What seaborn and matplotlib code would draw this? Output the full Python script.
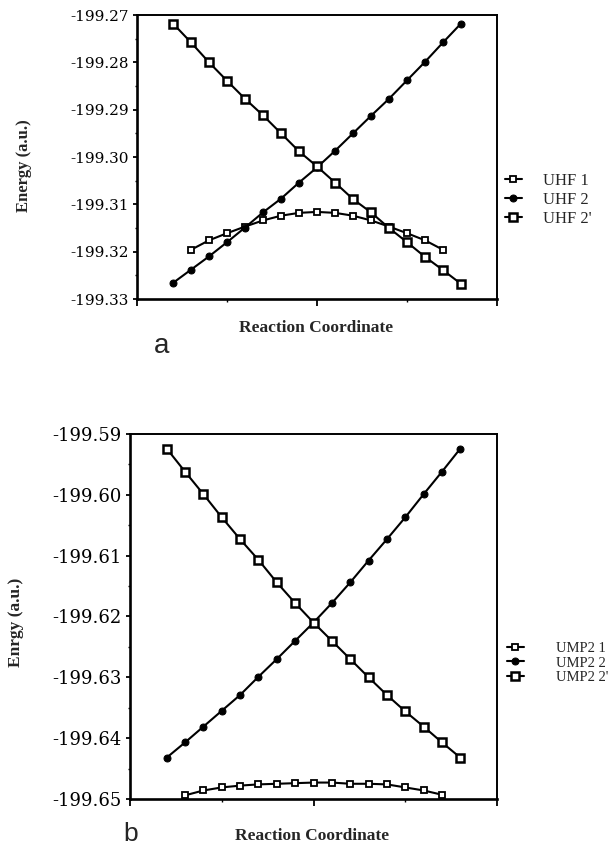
import numpy as np
import matplotlib
matplotlib.use('Agg')
import matplotlib.pyplot as plt
import seaborn as sns
from matplotlib.ticker import AutoMinorLocator

# reaction coordinate steps (arbitrary units)
coord_2 = list(range(-8, 9))
coord_1 = list(range(-7, 8))

# panel a: UHF energies (a.u.)
uhf_1 = [-199.3196, -199.3176, -199.3161, -199.3147, -199.3134, -199.3124, -199.3118, -199.3116,
         -199.3118, -199.3124, -199.3134, -199.3147, -199.3161, -199.3176, -199.3196]
uhf_2 = [-199.3266, -199.3238, -199.3210, -199.3180, -199.3149, -199.3117, -199.3088, -199.3054,
         -199.3022, -199.2987, -199.2950, -199.2913, -199.2877, -199.2838, -199.2799, -199.2758,
         -199.2718]
uhf_2p = [-199.2718, -199.2758, -199.2800, -199.2839, -199.2877, -199.2912, -199.2950, -199.2988,
          -199.3020, -199.3054, -199.3089, -199.3117, -199.3150, -199.3180, -199.3211, -199.3239,
          -199.3268]

# panel b: UMP2 energies (a.u.)
ump2_1 = [-199.6494, -199.6486, -199.6481, -199.6478, -199.6476, -199.6475, -199.6474, -199.6473,
          -199.6473, -199.6475, -199.6475, -199.6476, -199.6481, -199.6486, -199.6493]
ump2_2 = [-199.6432, -199.6407, -199.6381, -199.6355, -199.6329, -199.6299, -199.6270, -199.6240,
          -199.6210, -199.6178, -199.6144, -199.6108, -199.6073, -199.6037, -199.5999, -199.5962,
          -199.5924]
ump2_2p = [-199.5924, -199.5962, -199.5999, -199.6037, -199.6073, -199.6107, -199.6144, -199.6178,
           -199.6210, -199.6240, -199.6270, -199.6300, -199.6329, -199.6356, -199.6381, -199.6407,
           -199.6432]

labels_a = ['UHF 1', 'UHF 2', "UHF 2'"]
labels_b = ['UMP2 1', 'UMP2 2', "UMP2 2'"]

sns.set_style('ticks')
plt.rcParams['font.family'] = ['Liberation Serif', 'DejaVu Serif']
plt.rcParams['axes.unicode_minus'] = False
plt.rcParams['axes.edgecolor'] = 'black'
plt.rcParams['xtick.color'] = 'black'
plt.rcParams['ytick.color'] = 'black'

fig = plt.figure(figsize=(6.09, 8.48), dpi=100)
ax_a = fig.add_axes([0.2250, 0.6474, 0.5911, 0.3349])
ax_b = fig.add_axes([0.2135, 0.0578, 0.6026, 0.4304])


def draw_panel(ax, e1, e2, e2p, labels):
    sns.lineplot(x=coord_1, y=e1, ax=ax, color='black', linewidth=1.5, marker='s',
                 markersize=4.5, markerfacecolor='white', markeredgecolor='black',
                 markeredgewidth=1.3, label=labels[0], clip_on=False)
    sns.lineplot(x=coord_2, y=e2, ax=ax, color='black', linewidth=1.5, marker='o',
                 markersize=5, markerfacecolor='black', markeredgecolor='black',
                 label=labels[1], clip_on=False)
    sns.lineplot(x=coord_2, y=e2p, ax=ax, color='black', linewidth=1.5, marker='s',
                 markersize=5.3, markerfacecolor='white', markeredgecolor='black',
                 markeredgewidth=1.8, label=labels[2], clip_on=False)
    ax.set_xlim(-10, 10)
    ax.set_xticks([-10, 0, 10])
    ax.set_xticks([-5, 5], minor=True)
    ax.tick_params(axis='x', which='major', direction='out', length=5, width=1.3,
                   labelbottom=False)
    ax.tick_params(axis='x', which='minor', direction='out', length=2.5, width=1)
    ax.yaxis.set_minor_locator(AutoMinorLocator(2))
    ax.tick_params(axis='y', which='major', direction='out', length=3, width=1.3, pad=3)
    ax.tick_params(axis='y', which='minor', direction='out', length=1.5, width=1)
    for side in ['left', 'bottom']:
        ax.spines[side].set_linewidth(1.9)
    for side in ['top', 'right']:
        ax.spines[side].set_linewidth(1.4)


draw_panel(ax_a, uhf_1, uhf_2, uhf_2p, labels_a)
yt_a = np.round(np.linspace(-199.33, -199.27, 7), 2)
ax_a.set_ylim(-199.33, -199.27)
ax_a.set_yticks(yt_a)
ax_a.set_yticklabels([f'{v:.2f}' for v in yt_a], fontfamily='DejaVu Serif', fontsize=11)
ax_a.set_xlabel('Reaction Coordinate', fontsize=12.5, fontweight='bold')
ax_a.xaxis.set_label_coords(0.496, -0.074)
ax_a.set_ylabel('Energy (a.u.)', fontsize=12, fontweight='bold')
ax_a.yaxis.set_label_coords(-0.292, 0.468)
ax_a.legend(loc='center left', bbox_to_anchor=(1.022, 0.349), frameon=False, fontsize=12,
            handlelength=1.0, handletextpad=1.3, labelspacing=0.2, borderpad=0,
            borderaxespad=0)

draw_panel(ax_b, ump2_1, ump2_2, ump2_2p, labels_b)
yt_b = np.round(np.linspace(-199.65, -199.59, 7), 2)
ax_b.set_ylim(-199.65, -199.59)
ax_b.set_yticks(yt_b)
ax_b.set_yticklabels([f'{v:.2f}' for v in yt_b], fontfamily='DejaVu Serif', fontsize=13)
ax_b.set_xlabel('Reaction Coordinate', fontsize=12.5, fontweight='bold')
ax_b.xaxis.set_label_coords(0.497, -0.0795)
ax_b.set_ylabel('Enrgy (a.u.)', fontsize=12.5, fontweight='bold')
ax_b.yaxis.set_label_coords(-0.289, 0.485)
ax_b.legend(loc='center left', bbox_to_anchor=(1.027, 0.3726), frameon=False, fontsize=10.5,
            handlelength=1.15, handletextpad=2.2, labelspacing=0.1, borderpad=0,
            borderaxespad=0)

fig.text(162 / 609, 1 - 353 / 848, 'a', fontfamily='Liberation Sans', fontsize=20,
         ha='center', va='baseline')
fig.text(131 / 609, 1 - 846 / 848, 'b', fontfamily='Liberation Sans', fontsize=19,
         ha='center', va='bottom')

fig.savefig('out.png', dpi=100)
